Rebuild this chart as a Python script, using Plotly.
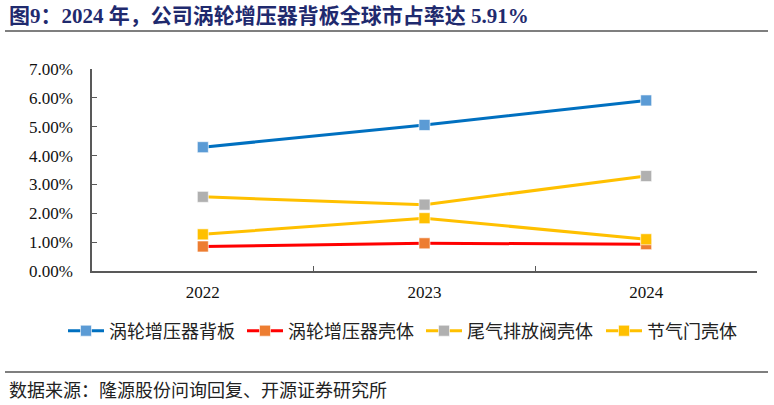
import plotly.graph_objects as go

# ---- data ----
years = ["2022", "2023", "2024"]
turbo_backplate = [0.0429, 0.0506, 0.0591]
turbo_housing = [0.0085, 0.0096, 0.0093]
exhaust_valve_housing = [0.0257, 0.0230, 0.0329]
throttle_housing = [0.0127, 0.0183, 0.0110]
series_names = ["涡轮增压器背板", "涡轮增压器壳体", "尾气排放阀壳体", "节气门壳体"]
y_ticks = [0, 0.01, 0.02, 0.03, 0.04, 0.05, 0.06, 0.07]

title_text = "图9：2024 年，公司涡轮增压器背板全球市占率达 5.91%"
source_text = "数据来源：隆源股份问询回复、开源证券研究所"

# ---- layout geometry (pixels) ----
W, H = 774, 405
L, R, T, B = 92, 17, 69, 134
PW, PH = W - L - R, H - T - B


def px_x(px):
    return (px - L) / PW


def px_y(py):
    return (H - B - py) / PH


serif = "Liberation Serif, Times New Roman, Noto Sans CJK SC"
cjk = "Noto Sans CJK SC, Liberation Serif"

fig = go.Figure()

styles = [
    (turbo_backplate, "#0070C0", "#5B9BD5"),
    (turbo_housing, "#FF0000", "#ED7D31"),
    (exhaust_valve_housing, "#FFC000", "#B0B0B0"),
    (throttle_housing, "#FFC000", "#FFC000"),
]
legend_ids = ["legend", "legend2", "legend3", "legend4"]
legend_x_px = [63, 242, 421, 601]

for name, (vals, lc, mc), lid in zip(series_names, styles, legend_ids):
    fig.add_trace(go.Scatter(
        x=years, y=vals, name=name, mode="lines+markers",
        line=dict(color=lc, width=3),
        marker=dict(symbol="square", size=11, color=mc,
                    line=dict(color="rgba(255,255,255,0.6)", width=1)),
        legend=lid,
    ))

legend_common = dict(
    orientation="h", xref="container", yref="container",
    y=1 - 331 / H, xanchor="left", yanchor="middle",
    font=dict(family=cjk, size=18, color="#222222"),
    itemwidth=36, bgcolor="rgba(0,0,0,0)", borderwidth=0,
    itemclick=False, itemdoubleclick=False,
)
legend_layout = {}
for lid, xp in zip(legend_ids, legend_x_px):
    legend_layout[lid] = dict(legend_common, x=xp / W)

fig.update_layout(
    width=W, height=H,
    margin=dict(l=L, r=R, t=T, b=B, pad=0, autoexpand=False),
    paper_bgcolor="white", plot_bgcolor="white",
    showlegend=True,
    xaxis=dict(
        type="category", range=[-0.5, 2.5],
        showline=True, linecolor="#595959", linewidth=1.5,
        ticks="inside", tickson="boundaries", ticklen=5, tickcolor="#595959",
        showgrid=False, zeroline=False,
        tickfont=dict(family=serif, size=17, color="#111111"),
        ticklabelstandoff=5,
    ),
    yaxis=dict(
        range=[0, 0.07], tickvals=y_ticks, tickformat=".2%",
        showline=True, linecolor="#595959", linewidth=1.5,
        ticks="inside", ticklen=5, tickcolor="#595959",
        showgrid=False, zeroline=False,
        tickfont=dict(family=serif, size=17, color="#111111"),
        ticklabelstandoff=14,
    ),
    annotations=[
        dict(text="<b>" + title_text + "</b>", xref="paper", yref="paper",
             x=px_x(7), y=px_y(16), xanchor="left", yanchor="middle",
             showarrow=False, font=dict(family=serif, size=21, color="#1F2A6E")),
        dict(text=source_text, xref="paper", yref="paper",
             x=px_x(7), y=px_y(389), xanchor="left", yanchor="middle",
             showarrow=False, font=dict(family=cjk, size=18, color="#222222")),
    ],
    shapes=[
        dict(type="line", xref="paper", yref="paper",
             x0=px_x(5), x1=px_x(768), y0=px_y(31), y1=px_y(31),
             line=dict(color="#7F7F7F", width=2)),
        dict(type="line", xref="paper", yref="paper",
             x0=px_x(5), x1=px_x(768), y0=px_y(372), y1=px_y(372),
             line=dict(color="#7F7F7F", width=2)),
    ],
    **legend_layout,
)

fig.write_html("out.html")
